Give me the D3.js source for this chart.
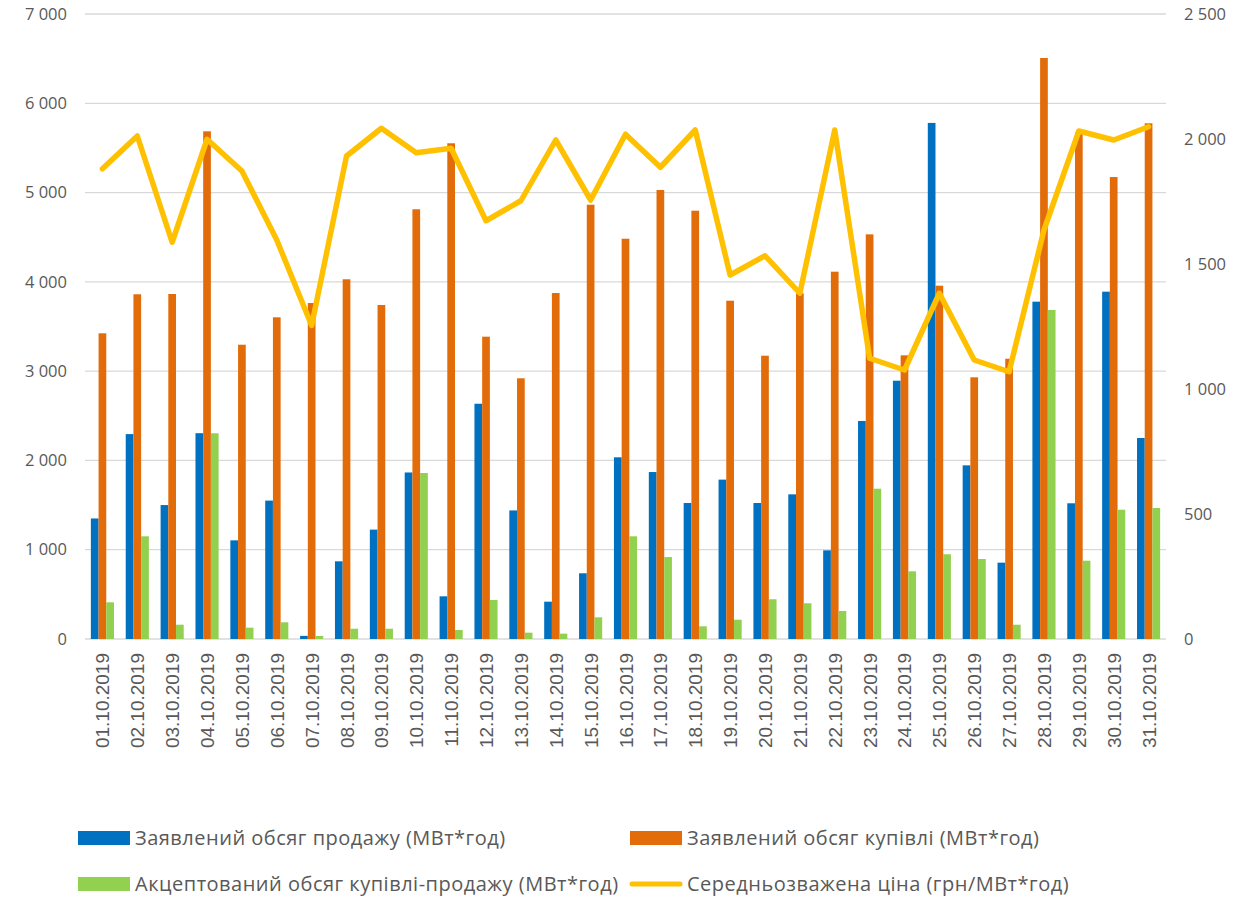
<!DOCTYPE html>
<html>
<head>
<meta charset="utf-8">
<script src="https://cdn.jsdelivr.net/npm/d3@7"></script>
<style>
  body { margin: 0; background: #fff; }
  svg { display: block; }
  text { fill: #595959; }
</style>
</head>
<body>
<svg id="chart" width="1237" height="897"></svg>
<script>
const dates = ["01.10.2019","02.10.2019","03.10.2019","04.10.2019","05.10.2019","06.10.2019","07.10.2019","08.10.2019","09.10.2019","10.10.2019","11.10.2019","12.10.2019","13.10.2019","14.10.2019","15.10.2019","16.10.2019","17.10.2019","18.10.2019","19.10.2019","20.10.2019","21.10.2019","22.10.2019","23.10.2019","24.10.2019","25.10.2019","26.10.2019","27.10.2019","28.10.2019","29.10.2019","30.10.2019","31.10.2019"];

// заявлений обсяг продажу
const sellVol = [1350, 2295, 1500, 2305, 1105, 1550, 35, 870, 1225, 1865, 478, 2635, 1440, 418, 736, 2035, 1870, 1523, 1785, 1523, 1620, 993, 2442, 2893, 5780, 1945, 855, 3778, 1520, 3890, 2251];
// заявлений обсяг купівлі
const buyVol = [3424, 3861, 3864, 5686, 3296, 3603, 3763, 4029, 3741, 4813, 5552, 3386, 2920, 3875, 4864, 4483, 5029, 4797, 3789, 3173, 3872, 4114, 4532, 3177, 3957, 2931, 3139, 6507, 5675, 5174, 5776];
// акцептований обсяг
const acceptVol = [411, 1150, 160, 2304, 127, 187, 34, 115, 115, 1859, 101, 437, 71, 60, 243, 1150, 918, 142, 216, 445, 400, 314, 1683, 758, 949, 896, 160, 3685, 877, 1448, 1467];
// середньозважена ціна
const price = [1881, 2012, 1587, 1999, 1872, 1596, 1254, 1932, 2043, 1945, 1963, 1673, 1753, 1996, 1756, 2019, 1887, 2036, 1456, 1533, 1383, 2036, 1123, 1076, 1383, 1116, 1069, 1636, 2032, 1996, 2049];

const leftTicks = [0, 1000, 2000, 3000, 4000, 5000, 6000, 7000];
const rightTicks = [0, 500, 1000, 1500, 2000, 2500];

const barSeries = [
  { name: "Заявлений обсяг продажу (МВт*год)", values: sellVol, color: "#0070C0" },
  { name: "Заявлений обсяг купівлі (МВт*год)", values: buyVol, color: "#E36C0A" },
  { name: "Акцептований обсяг купівлі-продажу (МВт*год)", values: acceptVol, color: "#92D050" }
];
const lineName = "Середньозважена ціна (грн/МВт*год)";
const lineColor = "#FFC000";

const svg = d3.select("#chart");
const plotL = 85, plotR = 1166, plotT = 14, plotB = 639;
const tickFont = "'Open Sans', sans-serif";

const x = d3.scaleBand().domain(dates).range([plotL, plotR]).paddingInner(0.337).paddingOuter(0.168);
const xs = d3.scaleBand().domain(d3.range(3)).range([0, x.bandwidth()]);
const y = d3.scaleLinear().domain([0, 7000]).range([plotB, plotT]);
const y2 = d3.scaleLinear().domain([0, 2500]).range([plotB, plotT]);

// gridlines
svg.append("g").selectAll("line").data(leftTicks).join("line")
  .attr("x1", plotL).attr("x2", plotR)
  .attr("y1", d => y(d)).attr("y2", d => y(d))
  .attr("stroke", "#d9d9d9").attr("stroke-width", 1.3);

// left axis
const fmt = d => d3.format(",")(d).replace(/,/g, " ");
const yAxis = svg.append("g").attr("transform", `translate(${plotL},0)`)
  .call(d3.axisLeft(y).tickValues(leftTicks).tickFormat(fmt).tickSize(0).tickPadding(18));
yAxis.select(".domain").remove();
yAxis.selectAll("text").style("font-family", tickFont).style("font-size", "16.5px").attr("fill", "#595959");

// right axis
const y2Axis = svg.append("g").attr("transform", `translate(${plotR},0)`)
  .call(d3.axisRight(y2).tickValues(rightTicks).tickFormat(fmt).tickSize(0).tickPadding(18));
y2Axis.select(".domain").remove();
y2Axis.selectAll("text").style("font-family", tickFont).style("font-size", "16.5px").attr("fill", "#595959");

// bars
barSeries.forEach((s, i) => {
  svg.append("g").selectAll("rect").data(s.values).join("rect")
    .attr("x", (d, j) => x(dates[j]) + xs(i))
    .attr("width", xs.bandwidth())
    .attr("y", d => y(d))
    .attr("height", d => y(0) - y(d))
    .attr("fill", s.color);
});

// price line
const line = d3.line()
  .x((d, i) => x(dates[i]) + x.bandwidth() / 2)
  .y(d => y2(d));
svg.append("path").datum(price)
  .attr("d", line)
  .attr("fill", "none")
  .attr("stroke", lineColor)
  .attr("stroke-width", 5.5)
  .attr("stroke-linejoin", "round")
  .attr("stroke-linecap", "round");

// x labels
svg.append("g").selectAll("text").data(dates).join("text")
  .attr("transform", d => `translate(${x(d) + x.bandwidth() / 2 + 7},653) rotate(-90)`)
  .attr("text-anchor", "end")
  .style("font-family", "'Liberation Sans', Arial, sans-serif")
  .style("font-size", "19px")
  .attr("fill", "#595959")
  .text(d => d);

// legend
const legendItems = [
  { name: barSeries[0].name, color: barSeries[0].color, type: "rect", x: 78, y: 838 },
  { name: barSeries[1].name, color: barSeries[1].color, type: "rect", x: 630, y: 838 },
  { name: barSeries[2].name, color: barSeries[2].color, type: "rect", x: 78, y: 884 },
  { name: lineName, color: lineColor, type: "line", x: 630, y: 884 }
];
const lg = svg.append("g").selectAll("g").data(legendItems).join("g")
  .attr("transform", d => `translate(${d.x},${d.y})`);
lg.filter(d => d.type === "rect").append("rect")
  .attr("x", 0).attr("y", -7).attr("width", 52).attr("height", 14)
  .attr("fill", d => d.color);
lg.filter(d => d.type === "line").append("line")
  .attr("x1", 2).attr("x2", 50).attr("y1", 0).attr("y2", 0)
  .attr("stroke", d => d.color).attr("stroke-width", 5).attr("stroke-linecap", "round");
lg.append("text")
  .attr("x", 57).attr("dy", "0.35em")
  .style("font-family", tickFont)
  .style("font-size", "20px")
  .style("letter-spacing", "0.5px")
  .attr("fill", "#595959")
  .text(d => d.name);
</script>
</body>
</html>
